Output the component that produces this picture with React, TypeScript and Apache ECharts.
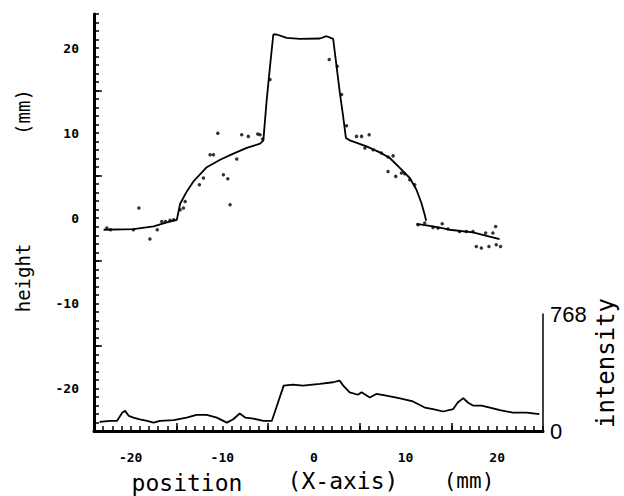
import React, { useEffect, useRef } from "react";
import * as echarts from "echarts";

// ---- data (positions in mm, heights in mm, intensity in counts 0..768) ----
const xTickLabels = [-20, -10, 0, 10, 20];
const xMajorTicks = [-15, -5, 5, 15];
const yTickLabels = [-20, -10, 0, 10, 20];
const yMajorTicks = [-15, -5, 5, 15];
const intensityTicks = [0, 768];

const heightCurve: number[][] = [
  [-22.95, -1.35], [-19.68, -1.27], [-17.5, -0.96], [-16.05, -0.49], [-14.96, -0.18],
  [-14.6, 1.7], [-13.87, 3.15], [-13.15, 4.33], [-11.69, 6.0], [-10.24, 6.88],
  [-8.79, 7.59], [-7.33, 8.26], [-5.88, 8.76], [-5.52, 9.12], [-5.15, 13.94],
  [-4.79, 17.86], [-4.43, 21.59], [-4.06, 21.59], [-2.97, 21.2], [-1.53, 21.08],
  [0.65, 21.12], [1.38, 21.39], [2.1, 21.08], [2.47, 17.86], [2.83, 14.73],
  [3.19, 11.98], [3.49, 9.44], [3.92, 9.15], [5.74, 8.45], [7.19, 7.74],
  [8.28, 7.08], [9.37, 5.91], [10.46, 4.73], [11.19, 3.35], [11.73, 1.79],
  [12.09, 0.41], [12.25, -0.29],
];

const rightTail: number[][] = [
  [11.19, -0.65], [13.0, -0.96], [14.81, -1.35], [17.35, -1.67], [20.26, -2.45],
];

const measuredPoints: number[][] = [
  [-22.6, -1.15], [-22.2, -1.35], [-19.7, -1.35], [-19.1, 1.2], [-17.9, -2.45],
  [-17.1, -1.35], [-16.6, -0.38], [-16.2, -0.38], [-15.7, -0.25], [-15.3, -0.18],
  [-14.6, 1.0], [-14.24, 1.2], [-14.05, 1.98], [-12.5, 3.94], [-12.06, 4.73],
  [-11.33, 7.47], [-10.97, 7.47], [-10.49, 10.0], [-9.88, 5.12], [-9.4, 4.65],
  [-9.15, 1.59], [-8.42, 6.96], [-7.88, 9.82], [-7.16, 9.62], [-6.13, 9.9],
  [-5.88, 9.82], [-5.6, 9.3], [-4.79, 16.3], [1.67, 18.65], [2.54, 17.86],
  [3.02, 14.53], [3.56, 10.88], [4.65, 9.62], [5.2, 9.62], [6.03, 9.82],
  [5.56, 8.26], [6.46, 8.06], [7.37, 7.67], [8.09, 7.2], [8.64, 7.33],
  [8.09, 5.5], [8.93, 4.92], [9.55, 5.32], [9.91, 5.24], [10.46, 4.53],
  [11.0, 3.94], [11.36, -0.76], [12.09, -0.56], [13.0, -1.08], [13.54, -1.15],
  [14.0, -0.65], [14.63, -1.27], [15.9, -1.55], [16.63, -1.55], [17.35, -1.55],
  [18.74, -1.74], [19.53, -1.74], [19.83, -0.96], [17.72, -3.32], [18.27, -3.5],
  [19.1, -3.32], [19.9, -3.12], [20.37, -3.32],
];

const intensity: number[][] = [
  [-23.4, 60], [-22.2, 66], [-21.5, 66], [-20.9, 121], [-20.6, 132], [-20.2, 99],
  [-19.7, 88], [-19.0, 77], [-18.2, 66], [-17.5, 55], [-16.8, 66], [-15.3, 71],
  [-13.9, 88], [-12.8, 106], [-11.7, 106], [-10.6, 88], [-9.5, 55], [-8.8, 77],
  [-8.1, 115], [-7.5, 88], [-6.6, 81], [-5.5, 66], [-4.6, 66], [-4.1, 154],
  [-3.3, 298], [-2.3, 305], [-1.2, 298], [0.65, 309], [2.1, 320], [2.8, 331],
  [3.2, 298], [3.9, 254], [4.8, 238], [5.2, 254], [6.1, 220], [6.8, 243],
  [7.9, 232], [9.4, 214], [10.8, 194], [12.1, 154], [13.0, 144], [14.1, 128],
  [15.2, 144], [15.7, 187], [16.3, 216], [16.8, 187], [17.4, 166], [18.3, 166],
  [19.2, 154], [20.3, 137], [21.7, 121], [23.2, 121], [24.6, 111],
];

const X_MIN = -24;
const X_MAX = 25;
const Y_MIN = -25;
const Y_MAX = 24;

const MONO = "DejaVu Sans Mono";
const BLACK = "#000";

export default function App() {
  const ref = useRef<HTMLDivElement>(null);

  useEffect(() => {
    if (!ref.current) return;
    const chart = echarts.init(ref.current, undefined, { renderer: "svg" });

    const tickLabelStyle = {
      color: BLACK,
      fontFamily: MONO,
      fontWeight: "bold" as const,
      fontSize: 13,
    };

    const option: any = {
      animation: false,
      backgroundColor: "#fff",
      grid: [
        { left: 94, right: 81, top: 14, bottom: 65 },
        { left: 94, right: 81, top: 314, bottom: 65 },
      ],
      xAxis: [
        {
          // main x axis: line, 1 mm ticks, labels every 10 mm
          gridIndex: 0,
          type: "value",
          min: X_MIN,
          max: X_MAX,
          interval: 1,
          position: "bottom",
          axisLine: { show: true, onZero: false, lineStyle: { color: BLACK, width: 3 } },
          axisTick: {
            show: true,
            interval: 0,
            inside: true,
            length: 5,
            lineStyle: { color: BLACK, width: 1.5 },
          },
          axisLabel: { ...tickLabelStyle, customValues: xTickLabels, margin: 20 },
          splitLine: { show: false },
        },
        {
          // longer ticks at odd multiples of 5 mm
          gridIndex: 0,
          type: "value",
          min: X_MIN,
          max: X_MAX,
          position: "bottom",
          axisLine: { show: false, onZero: false },
          axisTick: {
            show: true,
            inside: true,
            length: 8,
            customValues: xMajorTicks,
            lineStyle: { color: BLACK, width: 1.5 },
          },
          axisLabel: { show: false },
          splitLine: { show: false },
        },
        {
          gridIndex: 1,
          type: "value",
          min: X_MIN,
          max: X_MAX,
          show: false,
        },
      ],
      yAxis: [
        {
          gridIndex: 0,
          type: "value",
          min: Y_MIN,
          max: Y_MAX,
          interval: 1,
          position: "left",
          axisLine: { show: true, onZero: false, lineStyle: { color: BLACK, width: 3 } },
          axisTick: {
            show: true,
            interval: 0,
            inside: true,
            length: 5,
            lineStyle: { color: BLACK, width: 1.5 },
          },
          axisLabel: { ...tickLabelStyle, customValues: yTickLabels, margin: 15 },
          splitLine: { show: false },
        },
        {
          gridIndex: 0,
          type: "value",
          min: Y_MIN,
          max: Y_MAX,
          position: "left",
          axisLine: { show: false, onZero: false },
          axisTick: {
            show: true,
            inside: true,
            length: 8,
            customValues: yMajorTicks,
            lineStyle: { color: BLACK, width: 1.5 },
          },
          axisLabel: { show: false },
          splitLine: { show: false },
        },
        {
          gridIndex: 1,
          type: "value",
          min: intensityTicks[0],
          max: intensityTicks[1],
          interval: intensityTicks[1],
          position: "right",
          axisLine: { show: true, onZero: false, lineStyle: { color: BLACK, width: 1.5 } },
          axisTick: { show: false },
          axisLabel: {
            color: BLACK,
            fontFamily: "Liberation Sans",
            fontSize: 22,
            margin: 7,
          },
          splitLine: { show: false },
        },
      ],
      series: [
        {
          name: "fit",
          type: "line",
          xAxisIndex: 0,
          yAxisIndex: 0,
          data: heightCurve,
          showSymbol: false,
          lineStyle: { color: BLACK, width: 1.8 },
        },
        {
          name: "fitTail",
          type: "line",
          xAxisIndex: 0,
          yAxisIndex: 0,
          data: rightTail,
          showSymbol: false,
          lineStyle: { color: BLACK, width: 1.8 },
        },
        {
          name: "measured",
          type: "scatter",
          xAxisIndex: 0,
          yAxisIndex: 0,
          data: measuredPoints,
          symbol: "circle",
          symbolSize: 3.5,
          itemStyle: { color: BLACK },
        },
        {
          name: "intensity",
          type: "line",
          xAxisIndex: 2,
          yAxisIndex: 2,
          data: intensity,
          showSymbol: false,
          lineStyle: { color: BLACK, width: 1.8 },
        },
      ],
      graphic: [
        {
          type: "text",
          x: 23,
          y: 278,
          rotation: Math.PI / 2,
          style: { text: "height", fontFamily: MONO, fontSize: 19, fill: BLACK, align: "center", verticalAlign: "middle" },
        },
        {
          type: "text",
          x: 23,
          y: 112,
          rotation: Math.PI / 2,
          style: { text: "(mm)", fontFamily: MONO, fontSize: 19, fill: BLACK, align: "center", verticalAlign: "middle" },
        },
        {
          type: "text",
          x: 606,
          y: 363,
          rotation: Math.PI / 2,
          style: { text: "intensity", fontFamily: MONO, fontSize: 24, fill: BLACK, align: "center", verticalAlign: "middle" },
        },
        {
          type: "text",
          x: 187,
          y: 483,
          style: { text: "position", fontFamily: MONO, fontSize: 23, fill: BLACK, align: "center", verticalAlign: "middle" },
        },
        {
          type: "text",
          x: 343,
          y: 481,
          style: { text: "(X-axis)", fontFamily: MONO, fontSize: 23, fill: BLACK, align: "center", verticalAlign: "middle" },
        },
        {
          type: "text",
          x: 469,
          y: 481,
          style: { text: "(mm)", fontFamily: MONO, fontSize: 21, fill: BLACK, align: "center", verticalAlign: "middle" },
        },
      ],
    };

    chart.setOption(option);
    return () => {
      chart.dispose();
    };
  }, []);

  return (
    <div
      ref={ref}
      style={{ position: "fixed", left: 0, top: 0, width: 624, height: 496, background: "#fff" }}
    />
  );
}
